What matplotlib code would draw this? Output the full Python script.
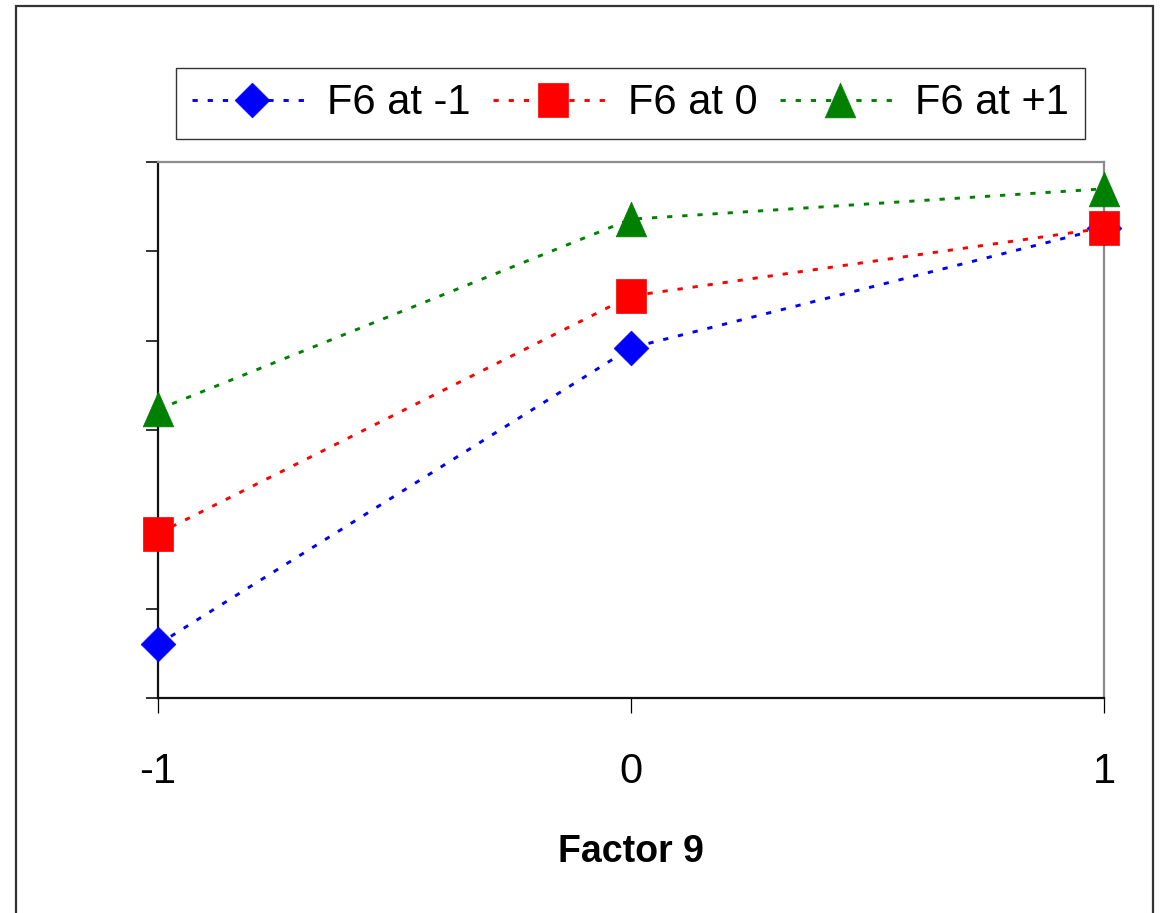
import matplotlib
matplotlib.use("Agg")
import matplotlib.pyplot as plt
import matplotlib.font_manager as fm
from matplotlib.path import Path
from matplotlib.patches import Rectangle

# ---- data ----
factor9 = [-1, 0, 1]
x_ticklabels = ["-1", "0", "1"]
series_labels = ["F6 at -1", "F6 at 0", "F6 at +1"]
f6_minus1 = [0.60, 3.92, 5.26]
f6_zero = [1.84, 4.50, 5.26]
f6_plus1 = [3.23, 5.36, 5.70]
y_ticks = [0, 1, 2, 3, 4, 5, 6]
x_label = "Factor 9"

avail = {f.name for f in fm.fontManager.ttflist}
NARROW = "Liberation Sans Narrow" in avail
FONT = "Liberation Sans Narrow" if NARROW else "Liberation Sans"
plt.rcParams["font.family"] = [FONT, "DejaVu Sans"]

W, H = 1160, 913
fig = plt.figure(figsize=(W / 100, H / 100), dpi=100)
fig.patch.set_facecolor("white")

# outer frame
fig.add_artist(Rectangle((16 / W, -0.02), (1153 - 16) / W, (913 - 6) / H + 0.02,
                         transform=fig.transFigure, fill=False,
                         edgecolor="#333333", linewidth=1.6))

ax = fig.add_axes([158 / W, (H - 698) / H, (1104 - 158) / W, (698 - 162) / H])

# custom marker shapes (slightly tall, like the reference)
sq_path = Path([(-0.44, -0.5), (0.44, -0.5), (0.44, 0.5), (-0.44, 0.5), (-0.44, -0.5)],
               [Path.MOVETO, Path.LINETO, Path.LINETO, Path.LINETO, Path.CLOSEPOLY])
tri_path = Path([(0, 0.5), (-0.44, -0.5), (0.44, -0.5), (0, 0.5)],
                [Path.MOVETO, Path.LINETO, Path.LINETO, Path.CLOSEPOLY])
dia_path = Path([(0, 0.5), (0.5, 0), (0, -0.5), (-0.5, 0), (0, 0.5)],
                [Path.MOVETO, Path.LINETO, Path.LINETO, Path.LINETO, Path.CLOSEPOLY])

styles = [
    (f6_minus1, "#0000FF", dia_path, 25),
    (f6_zero, "#FF0000", sq_path, 24),
    (f6_plus1, "#008000", tri_path, 25),
]
handles = []
for (vals, col, mk, ms), lab in zip(styles, series_labels):
    ln, = ax.plot(factor9, vals, color=col, linewidth=2.1, dashes=(1.8, 3.4),
                  marker=mk, markersize=ms, markerfacecolor=col,
                  markeredgecolor=col, markeredgewidth=0.5, clip_on=False,
                  label=lab, zorder=3)
    handles.append(ln)

ax.set_xlim(-1, 1)
ax.set_ylim(0, 6)
ax.set_xticks(factor9)
ax.set_xticklabels(x_ticklabels)
ax.set_yticks(y_ticks)
ax.set_yticklabels([])

for side in ["left", "bottom"]:
    ax.spines[side].set_color("#111111")
    ax.spines[side].set_linewidth(1.6)
for side in ["top", "right"]:
    ax.spines[side].set_color("#8c8c8c")
    ax.spines[side].set_linewidth(1.6)

tick_fs = 32 if NARROW else 30
ax.tick_params(axis="x", direction="out", length=11, width=0.9, color="black",
               labelsize=tick_fs, pad=28)
ax.tick_params(axis="y", direction="out", length=8.6, width=1.3, color="#222222")

ax.set_xlabel(x_label, fontsize=29 if NARROW else 27, fontweight="bold", labelpad=30)

leg_fs = 33 if NARROW else 30
leg = fig.legend(handles, series_labels, loc="center", ncol=3, mode="expand",
                 bbox_to_anchor=(176 / W, (H - 140) / H, (1085 - 176) / W, 73 / H),
                 bbox_transform=fig.transFigure, fontsize=leg_fs,
                 frameon=True, fancybox=False, shadow=False,
                 handlelength=2.9, handletextpad=0.35, borderpad=0.38,
                 borderaxespad=0.0, columnspacing=0.5)
leg.get_frame().set_edgecolor("black")
leg.get_frame().set_linewidth(1.0)

fig.savefig("out.png", dpi=100, facecolor="white")
